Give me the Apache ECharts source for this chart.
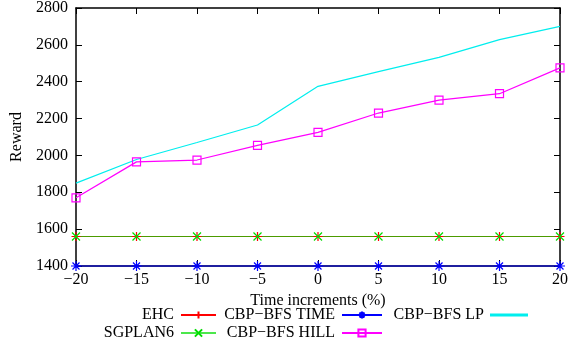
<!DOCTYPE html>
<html>
<head>
<meta charset="utf-8">
<script src="https://cdn.jsdelivr.net/npm/echarts@6/dist/echarts.min.js"></script>
<style>
  html, body { margin: 0; padding: 0; background: #fff; }
  #chart { width: 571px; height: 344px; }
</style>
</head>
<body>
<div id="chart"></div>
<script>
// x values (time increments, %)
var increments = [-20, -15, -10, -5, 0, 5, 10, 15, 20];
// rewards
var ehc      = [1560, 1560, 1560, 1560, 1560, 1560, 1560, 1560, 1560];
var sgplan6  = [1560, 1560, 1560, 1560, 1560, 1560, 1560, 1560, 1560];
var bfsTime  = [1400, 1400, 1400, 1400, 1400, 1400, 1400, 1400, 1400];
var bfsHill  = [1770, 1965, 1975, 2055, 2125, 2230, 2300, 2335, 2475];
var bfsLp    = [1850, 1978, 2070, 2165, 2375, 2455, 2532, 2628, 2700];

function pairs(vals) {
    return increments.map(function (x, i) { return [x, vals[i]]; });
}

var font = 'Liberation Serif';
var plus  = 'path://M5,0L5,10M0,5L10,5';
var cross = 'path://M0,0L10,10M10,0L0,10';
var star  = 'path://M5,0L5,10M0,5L10,5M1.5,1.5L8.5,8.5M8.5,1.5L1.5,8.5';
var square = 'path://M0,0L10,0L10,10L0,10Z';

function mk(name, vals, color, symbol, size) {
    return {
        name: name,
        type: 'line',
        data: pairs(vals),
        symbol: symbol || 'none',
        symbolSize: size || 9,
        showSymbol: !!symbol,
        clip: false,
        animation: false,
        lineStyle: { color: color, width: 1.2 },
        itemStyle: { color: color, borderColor: color, borderWidth: 1.2 },
        emphasis: { disabled: true }
    };
}

function leg(name, right, top, w, h, icon) {
    var item = { name: name };
    if (icon) item.icon = icon;
    return {
        data: [item],
        right: right,
        top: top,
        align: 'right',
        itemWidth: w,
        itemHeight: h,
        itemGap: 0,
        padding: 0,
        textStyle: { fontFamily: font, fontSize: 16, color: '#000', padding: [0, 2, 0, 0] },
        selectedMode: false
    };
}

var myChart = echarts.init(document.getElementById('chart'));
var option = {
    backgroundColor: '#fff',
    animation: false,
    grid: { left: 76, right: 8, top: 8, bottom: 78 },
    legend: [
        leg('EHC', 354, 307, 35, 9),
        leg('SGPLAN6', 354, 325, 35, 9),
        leg('CBP\u2212BFS TIME', 188, 307, 40, 9),
        leg('CBP\u2212BFS HILL', 188, 325, 40, 9),
        leg('CBP\u2212BFS LP', 43, 307, 36, 9,
            'path://M0,4.2L36,4.2L36,5.4L0,5.4Z')
    ],
    xAxis: [{
        type: 'value', min: -20, max: 20, interval: 5,
        name: 'Time increments (%)', nameLocation: 'middle', nameGap: 22,
        nameTextStyle: { fontFamily: font, fontSize: 16, color: '#000' },
        axisLine: { onZero: false, lineStyle: { color: '#000', width: 1.5 } },
        axisTick: { inside: true, length: 6, lineStyle: { color: '#000' } },
        axisLabel: {
            fontFamily: font, fontSize: 16, color: '#000', margin: 6,
            formatter: function (v) { return String(v).replace('-', '\u2212'); }
        },
        splitLine: { show: false }
    }, {
        type: 'value', min: -20, max: 20, interval: 5, position: 'top',
        axisLine: { onZero: false, lineStyle: { color: '#000', width: 1.5 } },
        axisTick: { inside: true, length: 6, lineStyle: { color: '#000' } },
        axisLabel: { show: false },
        splitLine: { show: false }
    }],
    yAxis: [{
        type: 'value', min: 1400, max: 2800, interval: 200,
        name: 'Reward', nameLocation: 'middle', nameGap: 50,
        nameTextStyle: { fontFamily: font, fontSize: 16, color: '#000' },
        axisLine: { show: true, onZero: false, lineStyle: { color: '#000', width: 1.5 } },
        axisTick: { show: true, inside: true, length: 6, lineStyle: { color: '#000' } },
        axisLabel: {
            fontFamily: font, fontSize: 16, color: '#000', margin: 8,
            formatter: function (v) { return String(v); }
        },
        splitLine: { show: false }
    }, {
        type: 'value', min: 1400, max: 2800, interval: 200, position: 'right',
        axisLine: { show: true, onZero: false, lineStyle: { color: '#000', width: 1.5 } },
        axisTick: { show: true, inside: true, length: 6, lineStyle: { color: '#000' } },
        axisLabel: { show: false },
        splitLine: { show: false }
    }],
    series: [
        mk('EHC', ehc, '#ff0000', plus, 9),
        mk('SGPLAN6', sgplan6, '#00dd00', cross, 8),
        mk('CBP\u2212BFS TIME', bfsTime, '#0000ff', star, 10),
        mk('CBP\u2212BFS HILL', bfsHill, '#ff00ff', square, 8),
        mk('CBP\u2212BFS LP', bfsLp, '#00eeee')
    ]
};
option.series[1].lineStyle.opacity = 0.7;
option.series[3].itemStyle.color = 'rgba(255,255,255,0)';
myChart.setOption(option);
</script>
</body>
</html>
